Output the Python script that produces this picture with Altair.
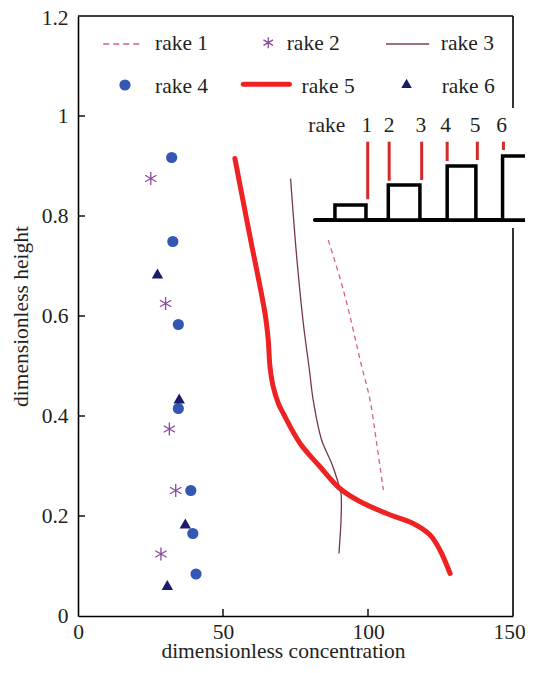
import altair as alt
import pandas as pd

# ---------------- data ----------------
rake1_x = [86.3, 91.5, 97.8, 100.7, 103.0, 105.3]
rake1_y = [0.752, 0.652, 0.500, 0.432, 0.345, 0.252]

rake2_x = [25.1, 30.2, 31.5, 33.7, 28.6]
rake2_y = [0.875, 0.625, 0.374, 0.251, 0.124]

rake3_x = [73.3, 75.4, 77.7, 79.8, 81.1, 84.0, 87.5, 89.8, 90.7, 90.7, 90.3, 90.0]
rake3_y = [0.875, 0.719, 0.585, 0.492, 0.432, 0.352, 0.305, 0.265, 0.245, 0.192, 0.152, 0.125]

rake4_x = [32.3, 32.7, 34.6, 34.6, 38.9, 39.6, 40.7]
rake4_y = [0.917, 0.749, 0.583, 0.415, 0.251, 0.165, 0.084]

rake5_x = [54.1, 59.3, 64.5, 65.6, 66.2, 67.3, 69.1, 70.8, 76.6, 83.4, 90.3, 97.2,
           106.4, 115.6, 121.4, 124.8, 128.3]
rake5_y = [0.915, 0.759, 0.605, 0.552, 0.499, 0.459, 0.425, 0.405, 0.345, 0.299, 0.255,
           0.229, 0.205, 0.185, 0.162, 0.132, 0.085]

rake6_x = [27.4, 34.9, 37.0, 30.8]
rake6_y = [0.685, 0.435, 0.185, 0.062]

x_ticks = [0, 50, 100, 150]
y_ticks = [0, 0.2, 0.4, 0.6, 0.8, 1, 1.2]

legend_names = ["rake 1", "rake 2", "rake 3", "rake 4", "rake 5", "rake 6"]

# inset schematic (in data units of the chart)
inset_labels = ["rake", "1", "2", "3", "4", "5", "6"]
inset_label_x = [85.8, 99.6, 107.3, 118.2, 126.8, 136.9, 146.1]
box_x1 = [88.6, 107.0, 127.3, 146.4]
box_x2 = [99.3, 117.9, 137.2, 156.2]
box_top = [0.822, 0.862, 0.900, 0.920]
probe_x = [99.9, 107.3, 118.5, 127.3, 137.7, 146.7]
probe_bottom = [0.8334, 0.8706, 0.872, 0.910, 0.912, 0.932]

# ---------------- layout / style ----------------
W, H = 435, 600
FONT = "'Liberation Serif', 'Times New Roman', 'DejaVu Serif', serif"
FS = 21.5
TXT = "#231f20"
XT = "dimensionless concentration"
YT = "dimensionless height"

xs = alt.Scale(domain=[0, 150], nice=False, zero=False)
ys = alt.Scale(domain=[0, 1.2], nice=False, zero=False)

AX = alt.Axis(values=x_ticks, ticks=False, grid=False, domainColor="black",
              domainWidth=1.6, labelFont=FONT, labelFontSize=FS, labelColor=TXT,
              labelFlush=False, labelOverlap=False, labelPadding=22,
              labelOffset=alt.condition("datum.value == 150", alt.value(-4), alt.value(0)),
              labelBaseline="alphabetic", titleFont=FONT, titleFontSize=FS,
              titleFontWeight="normal", titleColor=TXT, titleX=205, titleY=41,
              titleBaseline="alphabetic", titleAlign="center")
AY = alt.Axis(values=y_ticks, format="~g", ticks=False, grid=False,
              domainColor="black", domainWidth=1.6, labelFont=FONT,
              labelFontSize=FS, labelColor=TXT, labelFlush=False,
              labelOverlap=False, labelPadding=10,
              labelOffset=alt.condition("datum.value == 1.2", alt.value(2), alt.value(0)),
              titleFont=FONT,
              titleFontSize=FS, titleFontWeight="normal", titleColor=TXT,
              titleX=-51, titleY=300, titleBaseline="alphabetic",
              titleAlign="center", titleAngle=-90)


def X(f):
    return alt.X(f, type="quantitative", scale=xs, axis=AX, title=XT)


def Y(f):
    return alt.Y(f, type="quantitative", scale=ys, axis=AY, title=YT)


def X2(f):
    return alt.X2(f, title=XT)


def Y2(f):
    return alt.Y2(f, title=YT)


def series(xv, yv):
    return pd.DataFrame({"x": xv, "y": yv, "i": list(range(len(xv)))})


STAR = "M0,-1L0,1M-0.87,-0.5L0.87,0.5M-0.87,0.5L0.87,-0.5"

frame_df = pd.DataFrame({"k": [0]})
top_border = alt.Chart(frame_df).mark_rule(color="black", strokeWidth=1.6).encode(
    x=alt.value(0), x2=alt.value(W), y=alt.value(0))
right_border1 = alt.Chart(frame_df).mark_rule(color="black", strokeWidth=1.6).encode(
    x=alt.value(W), y=alt.value(0), y2=alt.value(92))
right_border2 = alt.Chart(frame_df).mark_rule(color="black", strokeWidth=1.6).encode(
    x=alt.value(W), y=alt.value(212), y2=alt.value(H))

xtick_layer = alt.Chart(pd.DataFrame({"v": x_ticks[1:-1]})).mark_rule(
    color="black", strokeWidth=1.4).encode(x=X("v"), y=alt.value(H), y2=alt.value(H - 7))
ytick_layer = alt.Chart(pd.DataFrame({"v": y_ticks[1:-1]})).mark_rule(
    color="black", strokeWidth=1.4).encode(y=Y("v"), x=alt.value(0), x2=alt.value(7))

line1 = alt.Chart(series(rake1_x, rake1_y)).mark_line(
    color="#d9607a", strokeWidth=1.3, strokeDash=[5, 4], interpolate="catmull-rom").encode(
    x=X("x"), y=Y("y"), order="i:Q")
line3 = alt.Chart(series(rake3_x, rake3_y)).mark_line(
    color="#74384a", strokeWidth=1.3, interpolate="catmull-rom").encode(
    x=X("x"), y=Y("y"), order="i:Q")
line5 = alt.Chart(series(rake5_x, rake5_y)).mark_line(
    color="#ee2222", strokeWidth=5, interpolate="catmull-rom", strokeCap="round").encode(
    x=X("x"), y=Y("y"), order="i:Q")

pts2 = alt.Chart(series(rake2_x, rake2_y)).mark_point(
    shape=STAR, filled=False, color="#8a4a9c", strokeWidth=1.3, size=169, opacity=1).encode(
    x=X("x"), y=Y("y"))
pts4 = alt.Chart(series(rake4_x, rake4_y)).mark_point(
    shape="circle", filled=True, color="#3457b4", size=125, opacity=1).encode(
    x=X("x"), y=Y("y"))
pts6 = alt.Chart(series(rake6_x, rake6_y)).mark_point(
    shape="triangle-up", filled=True, color="#1b1b6b", size=130, opacity=1).encode(
    x=X("x"), y=Y("y"))

# ---- inset schematic ----
boxes = alt.Chart(pd.DataFrame({"x1": box_x1, "x2": box_x2, "top": box_top,
                                "bot": [0.792] * len(box_x1)})).mark_rect(
    fill="white", stroke="black", strokeWidth=3.5).encode(
    x=X("x1"), x2=X2("x2"), y=Y("bot"), y2=Y2("top"))
base = alt.Chart(pd.DataFrame({"x1": [81.7], "x2": [158.0], "y": [0.792]})).mark_rule(
    color="black", strokeWidth=4, strokeCap="round").encode(
    x=X("x1"), x2=X2("x2"), y=Y("y"))
probes = alt.Chart(pd.DataFrame({"x": probe_x, "b": probe_bottom,
                                 "t": [0.9486] * len(probe_x)})).mark_rule(
    color="#d42a2a", strokeWidth=3).encode(x=X("x"), y=Y("b"), y2=Y2("t"))
inset_text = alt.Chart(pd.DataFrame({"x": inset_label_x, "y": [0.969] * len(inset_labels),
                                     "t": inset_labels})).mark_text(
    font=FONT, fontSize=FS, color=TXT, align="center", baseline="alphabetic").encode(
    x=X("x"), y=Y("y"), text="t:N")

# ---- legend ----
leg_text = alt.Chart(pd.DataFrame({
    "x": [26.55, 71.97, 125.1, 26.55, 77.1, 125.4],
    "y": [1.132, 1.132, 1.132, 1.0466, 1.0466, 1.0466],
    "t": legend_names})).mark_text(
    font=FONT, fontSize=FS, color=TXT, align="left", baseline="alphabetic").encode(
    x=X("x"), y=Y("y"), text="t:N")
leg1 = alt.Chart(pd.DataFrame({"x1": [8.7], "x2": [22.5], "y": [1.144]})).mark_rule(
    color="#d9607a", strokeWidth=1.6, strokeDash=[6, 4]).encode(
    x=X("x1"), x2=X2("x2"), y=Y("y"))
leg2 = alt.Chart(pd.DataFrame({"x": [65.6], "y": [1.1467]})).mark_point(
    shape=STAR, filled=False, color="#8a4a9c", strokeWidth=1.3, size=120, opacity=1).encode(
    x=X("x"), y=Y("y"))
leg3 = alt.Chart(pd.DataFrame({"x1": [106.2], "x2": [121.1], "y": [1.144]})).mark_rule(
    color="#a07078", strokeWidth=2.2).encode(x=X("x1"), x2=X2("x2"), y=Y("y"))
leg4 = alt.Chart(pd.DataFrame({"x": [16.2], "y": [1.062]})).mark_point(
    shape="circle", filled=True, color="#3457b4", size=125, opacity=1).encode(
    x=X("x"), y=Y("y"))
leg5 = alt.Chart(pd.DataFrame({"x1": [57.0], "x2": [72.9], "y": [1.0634]})).mark_rule(
    color="#ee2222", strokeWidth=5, strokeCap="round").encode(
    x=X("x1"), x2=X2("x2"), y=Y("y"))
leg6 = alt.Chart(pd.DataFrame({"x": [113.3], "y": [1.0653]})).mark_point(
    shape="triangle-up", filled=True, color="#1b1b6b", size=110, opacity=1).encode(
    x=X("x"), y=Y("y"))

chart = alt.layer(
    top_border, right_border1, right_border2, xtick_layer, ytick_layer,
    line1, line3, line5, pts2, pts4, pts6,
    base, boxes, probes, inset_text,
    leg_text, leg1, leg2, leg3, leg4, leg5, leg6,
).properties(
    width=W, height=H,
    autosize=alt.AutoSizeParams(type="none"),
    padding={"left": 70, "top": 8, "right": 12, "bottom": 45},
    background="white",
).configure_view(stroke=None)

chart.save("out.html", embed_options={"renderer": "svg", "actions": False})
